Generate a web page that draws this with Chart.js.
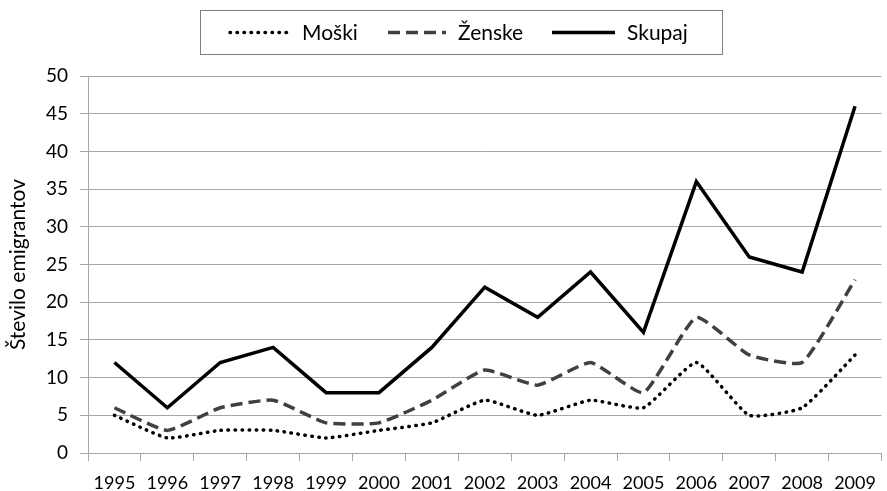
<!DOCTYPE html>
<html>
<head>
<meta charset="utf-8">
<script src="https://cdn.jsdelivr.net/npm/chart.js@4/dist/chart.umd.min.js"></script>
<style>
    html, body { margin: 0; padding: 0; background: #fff; }
    #wrap { position: relative; width: 887px; height: 491px; }
</style>
</head>
<body>
<div id="wrap"><canvas id="chart" width="887" height="491"></canvas></div>
<script>
const years = ['1995', '1996', '1997', '1998', '1999', '2000', '2001', '2002',
    '2003', '2004', '2005', '2006', '2007', '2008', '2009'];
const moski = [5, 2, 3, 3, 2, 3, 4, 7, 5, 7, 6, 12, 5, 6, 13];
const zenske = [6, 3, 6, 7, 4, 4, 7, 11, 9, 12, 8, 18, 13, 12, 23];
const skupaj = [12, 6, 12, 14, 8, 8, 14, 22, 18, 24, 16, 36, 26, 24, 46];
const seriesNames = ['Moški', 'Ženske', 'Skupaj'];
const yTitle = 'Število emigrantov';

const FONT = 'Lato, "Open Sans", sans-serif';
const GRID = '#a6a6a6';

// legend drawn as a framed box above the plot, like the original
const boxLegend = {
    id: 'boxLegend',
    afterDraw(chart) {
        const ctx = chart.ctx;
        const box = { x: 200.5, y: 10.5, w: 522, h: 44 };
        const items = [
            { x: 230, len: 60 },
            { x: 388, len: 58 },
            { x: 552, len: 63 },
        ];
        ctx.save();
        ctx.strokeStyle = '#7f7f7f';
        ctx.lineWidth = 1;
        ctx.strokeRect(box.x, box.y, box.w, box.h);
        const cy = box.y + box.h / 2;
        chart.data.datasets.forEach((ds, i) => {
            const it = items[i];
            ctx.beginPath();
            ctx.strokeStyle = ds.borderColor;
            ctx.lineWidth = ds.borderWidth;
            ctx.lineCap = ds.borderCapStyle || 'butt';
            ctx.setLineDash(ds.borderDash || []);
            ctx.moveTo(it.x, cy);
            ctx.lineTo(it.x + it.len, cy);
            ctx.stroke();
            ctx.setLineDash([]);
            ctx.fillStyle = '#000';
            ctx.font = '21px ' + FONT;
            ctx.textBaseline = 'middle';
            ctx.textAlign = 'left';
            ctx.fillText(ds.label, it.x + it.len + 12, cy + 1);
        });
        ctx.restore();
    },
};

new Chart(document.getElementById('chart').getContext('2d'), {
    type: 'line',
    data: {
        labels: years,
        datasets: [
            {
                label: seriesNames[0],
                data: moski,
                borderColor: '#000',
                borderWidth: 3.5,
                borderDash: [0.5, 6.5],
                borderCapStyle: 'round',
                tension: 0.15,
                pointRadius: 0,
            },
            {
                label: seriesNames[1],
                data: zenske,
                borderColor: '#404040',
                borderWidth: 3.5,
                borderDash: [12, 6],
                tension: 0.15,
                pointRadius: 0,
            },
            {
                label: seriesNames[2],
                data: skupaj,
                borderColor: '#000',
                borderWidth: 3.5,
                tension: 0,
                pointRadius: 0,
            },
        ],
    },
    options: {
        responsive: false,
        animation: false,
        devicePixelRatio: 1,
        layout: { padding: { top: 76, right: 2, left: 0, bottom: 0 } },
        plugins: {
            legend: { display: false },
            tooltip: { enabled: false },
        },
        scales: {
            x: {
                offset: true,
                grid: {
                    offset: true,
                    drawOnChartArea: false,
                    drawTicks: true,
                    tickLength: 8,
                    color: GRID,
                },
                border: { color: GRID, width: 1 },
                ticks: {
                    color: '#000',
                    font: { family: FONT, size: 18 },
                    padding: 11,
                    maxRotation: 0,
                    autoSkip: false,
                },
                afterFit(scale) { scale.height = 38; },
            },
            y: {
                min: 0,
                max: 50,
                ticks: {
                    stepSize: 5,
                    color: '#000',
                    font: { family: FONT, size: 19 },
                    padding: 12,
                },
                grid: {
                    color: GRID,
                    tickLength: 8,
                },
                border: { color: GRID, width: 1 },
                title: {
                    display: true,
                    text: yTitle,
                    color: '#000',
                    font: { family: FONT, size: 21 },
                    padding: { top: 6, bottom: 0 },
                },
                afterFit(scale) { scale.width = 88; },
            },
        },
    },
    plugins: [boxLegend],
});
</script>
</body>
</html>
